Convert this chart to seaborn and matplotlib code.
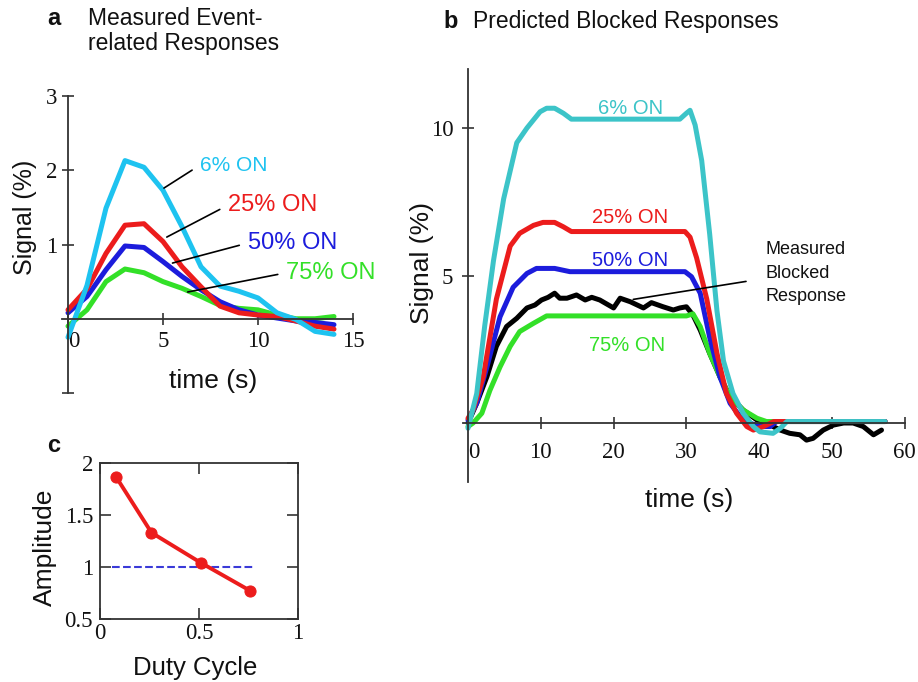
import matplotlib
matplotlib.use("Agg")
import matplotlib.pyplot as plt
import seaborn as sns

# ---- panel a: measured event-related responses (t = 0..14 s)
t_a = list(range(15))
on6_a = [-0.25, 0.45, 1.49, 2.13, 2.04, 1.73, 1.24, 0.70, 0.44, 0.37, 0.28, 0.08, -0.01, -0.17, -0.21]
on25_a = [0.12, 0.40, 0.88, 1.26, 1.28, 1.04, 0.70, 0.43, 0.17, 0.08, 0.05, 0.03, -0.03, -0.10, -0.14]
on50_a = [0.08, 0.30, 0.66, 0.98, 0.96, 0.77, 0.57, 0.39, 0.23, 0.12, 0.05, 0.01, -0.03, -0.05, -0.08]
on75_a = [-0.10, 0.12, 0.50, 0.67, 0.62, 0.50, 0.41, 0.30, 0.18, 0.14, 0.12, 0.05, 0.00, 0.00, 0.03]

# ---- panel b: predicted blocked responses
t_6b = [0, 1.2, 2.3, 3.5, 4.9, 6.7, 8.1, 9.9, 10.8, 11.9, 13.1, 14.2, 29.1, 30.0, 30.5, 31.2,
        32.1, 33.2, 34.2, 35.1, 36.4, 37.8, 39.2, 40.1, 41.9, 42.9, 43.8, 57.3]
on6_b = [-0.18, 1.0, 3.3, 5.5, 7.6, 9.5, 10.0, 10.55, 10.67, 10.67, 10.5, 10.3, 10.3, 10.5, 10.6, 10.1,
         8.9, 6.4, 3.8, 2.1, 1.0, 0.33, -0.12, -0.3, -0.35, -0.18, 0.05, 0.05]
t_25b = [0, 0.7, 2.1, 3.9, 5.8, 7.1, 9.0, 10.3, 11.9, 13.1, 14.2, 29.8, 30.5, 31.4, 32.8, 34.2,
         35.5, 36.9, 38.3, 39.2, 40.6, 42.0, 57.3]
on25_b = [0.16, 0.44, 1.57, 4.2, 6.0, 6.43, 6.7, 6.8, 6.8, 6.65, 6.49, 6.49, 6.3, 5.6, 4.2, 2.36,
          1.0, 0.33, -0.12, -0.24, -0.12, 0.05, 0.05]
t_50b = [0, 1.2, 2.6, 4.4, 6.2, 8.1, 9.4, 11.9, 14.0, 29.8, 30.7, 31.9, 33.2, 34.6, 36.0, 37.4,
         38.7, 40.1, 41.5, 42.4, 57.3]
on50_b = [0.1, 0.67, 1.9, 3.6, 4.6, 5.07, 5.24, 5.24, 5.13, 5.13, 4.96, 4.4, 2.9, 1.57, 0.67, 0.21,
          0.0, -0.12, -0.12, 0.05, 0.05]
t_75b = [0, 0.7, 1.9, 3.0, 4.4, 5.8, 7.1, 9.0, 10.8, 30.0, 30.9, 31.9, 33.2, 34.6, 36.0, 37.8,
         39.7, 41.0, 57.3]
on75_b = [-0.12, 0.0, 0.33, 1.1, 1.9, 2.6, 3.1, 3.38, 3.63, 3.63, 3.7, 3.27, 2.36, 1.57, 0.9, 0.44,
          0.16, 0.05, 0.05]
t_meas = [0, 1.2, 2.6, 3.9, 5.3, 6.7, 8.1, 9.2, 10.1, 11.0, 11.9, 12.6, 13.6, 14.9, 16.1, 17.0,
          18.1, 20.0, 20.9, 22.3, 24.1, 25.2, 26.8, 28.2, 29.1, 30.0, 30.9, 31.9, 33.2, 34.6, 36.0,
          37.8, 39.7, 41.5, 42.9, 44.2, 45.6, 46.5, 47.4, 48.8, 50.2, 51.6, 52.9, 54.3, 55.7, 56.8]
measured = [0.0, 0.67, 1.57, 2.6, 3.27, 3.55, 3.9, 4.0, 4.17, 4.26, 4.4, 4.23, 4.23, 4.34, 4.17, 4.26,
            4.17, 3.9, 4.23, 4.11, 3.9, 4.08, 3.94, 3.83, 3.9, 3.94, 3.66, 3.15, 2.36, 1.57, 0.9,
            0.44, 0.1, -0.07, -0.24, -0.35, -0.4, -0.58, -0.52, -0.24, -0.07, 0.0, 0.0, -0.12, -0.4, -0.24]

# ---- panel c: amplitude vs duty cycle
duty = [0.08, 0.26, 0.51, 0.76]
amplitude = [1.87, 1.33, 1.04, 0.77]
ref_x = [0.06, 0.78]
ref_y = [1.0, 1.0]

CYAN_A, CYAN_B = "#1ec3f0", "#3cc4c8"
RED, BLUE, GREEN = "#ec1c1c", "#1c1cdc", "#33e028"
SERIF = "Liberation Serif"

sns.set_style("ticks")
plt.rcParams['font.family'] = ['Liberation Sans', 'DejaVu Sans']
plt.rcParams['text.color'] = '#111111'
plt.rcParams['xtick.labelcolor'] = '#111111'
plt.rcParams['ytick.labelcolor'] = '#111111'

W, H = 918, 682
fig = plt.figure(figsize=(W / 100, H / 100), dpi=100)


def box(l, t, r, b):
    return [l / W, 1 - b / H, (r - l) / W, (b - t) / H]


def ftext(x, y, s, **kw):
    fig.text(x / W, 1 - y / H, s, **kw)


def cross_axes(ax, xt, xl, yt, yl, xpad, ypad):
    for s in ("top", "right"):
        ax.spines[s].set_visible(False)
    for s in ("left", "bottom"):
        ax.spines[s].set_position(("data", 0))
        ax.spines[s].set_color("#333333")
        ax.spines[s].set_linewidth(1.3)
    ax.set_xticks(xt)
    ax.set_xticklabels(xl, fontfamily=SERIF, fontsize=16.5)
    ax.set_yticks(yt)
    ax.set_yticklabels(yl, fontfamily=SERIF, fontsize=16.5)
    ax.tick_params(direction="inout", length=9, width=1.2, color="#333333")
    ax.tick_params(axis="x", pad=xpad)
    ax.tick_params(axis="y", pad=ypad)
    ax.get_xticklabels()[0].set_ha("left")
    ax.set_xlabel("")
    ax.set_ylabel("")


# ---------------- panel a
ax_a = fig.add_axes(box(62.3, 96, 353, 393))
lw = 3.6
sns.lineplot(x=t_a, y=on75_a, color=GREEN, linewidth=lw, ax=ax_a)
sns.lineplot(x=t_a, y=on50_a, color=BLUE, linewidth=lw, ax=ax_a)
sns.lineplot(x=t_a, y=on25_a, color=RED, linewidth=lw, ax=ax_a)
sns.lineplot(x=t_a, y=on6_a, color=CYAN_A, linewidth=lw, ax=ax_a)
ax_a.set_xlim(-0.3, 15)
ax_a.set_ylim(-1, 3)
cross_axes(ax_a, [0, 5, 10, 15], ["0", "5", "10", "15"], [-1, 1, 2, 3], ["", "1", "2", "3"], 4, 3)

lead = dict(arrowstyle="-", color="black", lw=1.2, relpos=(0, 0.5), shrinkA=4, shrinkB=0)
ax_a.annotate("6% ON", xy=(5.05, 1.76), xytext=(6.95, 2.07), color=CYAN_A, fontsize=15,
              va="center", ha="left", arrowprops=lead)
ax_a.annotate("25% ON", xy=(5.2, 1.1), xytext=(8.42, 1.53), color=RED, fontsize=17,
              va="center", ha="left", arrowprops=lead)
ax_a.annotate("50% ON", xy=(5.5, 0.75), xytext=(9.47, 1.02), color=BLUE, fontsize=17,
              va="center", ha="left", arrowprops=lead)
ax_a.annotate("75% ON", xy=(6.3, 0.36), xytext=(11.5, 0.62), color=GREEN, fontsize=17,
              va="center", ha="left", arrowprops=lead)

ftext(25, 217, "Signal (%)", rotation=90, fontsize=18, ha="center", va="center")
ftext(213, 381, "time (s)", fontsize=19, ha="center", va="center")
ftext(47, 7, "a", fontsize=17, fontweight="bold", va="top")
ftext(88, 7, "Measured Event-\nrelated Responses", fontsize=16.5, va="top", linespacing=1.12)

# ---------------- panel b
ax_b = fig.add_axes(box(462.9, 69, 904.8, 482))
sns.lineplot(x=t_meas, y=measured, color="black", linewidth=lw, ax=ax_b)
sns.lineplot(x=t_75b, y=on75_b, color=GREEN, linewidth=lw, ax=ax_b)
sns.lineplot(x=t_50b, y=on50_b, color=BLUE, linewidth=lw, ax=ax_b)
sns.lineplot(x=t_25b, y=on25_b, color=RED, linewidth=lw, ax=ax_b)
sns.lineplot(x=t_6b, y=on6_b, color=CYAN_B, linewidth=lw, ax=ax_b)
ax_b.set_xlim(-0.7, 60)
ax_b.set_ylim(-2, 12)
cross_axes(ax_b, [0, 10, 20, 30, 40, 50, 60], ["0", "10", "20", "30", "40", "50", "60"],
           [5, 10], ["5", "10"], 9, 6)

ax_b.text(22.3, 10.35, "6% ON", color=CYAN_B, fontsize=14.5, ha="center", va="bottom")
ax_b.text(22.3, 6.95, "25% ON", color=RED, fontsize=14.5, ha="center", va="center")
ax_b.text(22.3, 5.5, "50% ON", color=BLUE, fontsize=14.5, ha="center", va="center")
ax_b.text(21.9, 2.64, "75% ON", color=GREEN, fontsize=14.5, ha="center", va="center")
ax_b.annotate("Measured\nBlocked\nResponse", xy=(22.7, 4.19), xytext=(40.9, 5.08), fontsize=13,
              va="center", ha="left", linespacing=1.5,
              arrowprops=dict(arrowstyle="-", color="black", lw=1.2, relpos=(0, 0.42),
                              shrinkA=12, shrinkB=0))

ftext(422, 263, "Signal (%)", rotation=90, fontsize=19, ha="center", va="center")
ftext(689, 500, "time (s)", fontsize=19, ha="center", va="center")
ftext(443, 10, "b", fontsize=17, fontweight="bold", va="top")
ftext(473, 10, "Predicted Blocked Responses", fontsize=16.5, va="top")

# ---------------- panel c
ax_c = fig.add_axes(box(100, 463, 298, 619))
sns.lineplot(x=ref_x, y=ref_y, color="#3a3ad8", linewidth=1.5, linestyle="--", ax=ax_c)
sns.lineplot(x=duty, y=amplitude, color=RED, linewidth=2.8, marker="o", markersize=8,
             markeredgecolor=RED, ax=ax_c)
ax_c.set_xlim(0, 1)
ax_c.set_ylim(0.5, 2)
ax_c.set_xticks([0, 0.5, 1])
ax_c.set_xticklabels(["0", "0.5", "1"], fontfamily=SERIF, fontsize=16.5)
ax_c.set_yticks([0.5, 1, 1.5, 2])
ax_c.set_yticklabels(["0.5", "1", "1.5", "2"], fontfamily=SERIF, fontsize=16.5)
ax_c.tick_params(direction="in", top=True, right=True, length=8, width=1.2, color="#333333")
ax_c.tick_params(axis="x", pad=3)
ax_c.tick_params(axis="y", pad=5)
for s in ax_c.spines.values():
    s.set_color("#333333")
    s.set_linewidth(1.3)
ax_c.set_xlabel("")
ax_c.set_ylabel("")

ftext(45, 547, "Amplitude", rotation=90, fontsize=19, ha="center", va="center")
ftext(195, 668, "Duty Cycle", fontsize=18.5, ha="center", va="center")
ftext(54, 445, "c", fontsize=17, fontweight="bold", ha="center", va="center")

fig.savefig("out.png", dpi=100)
